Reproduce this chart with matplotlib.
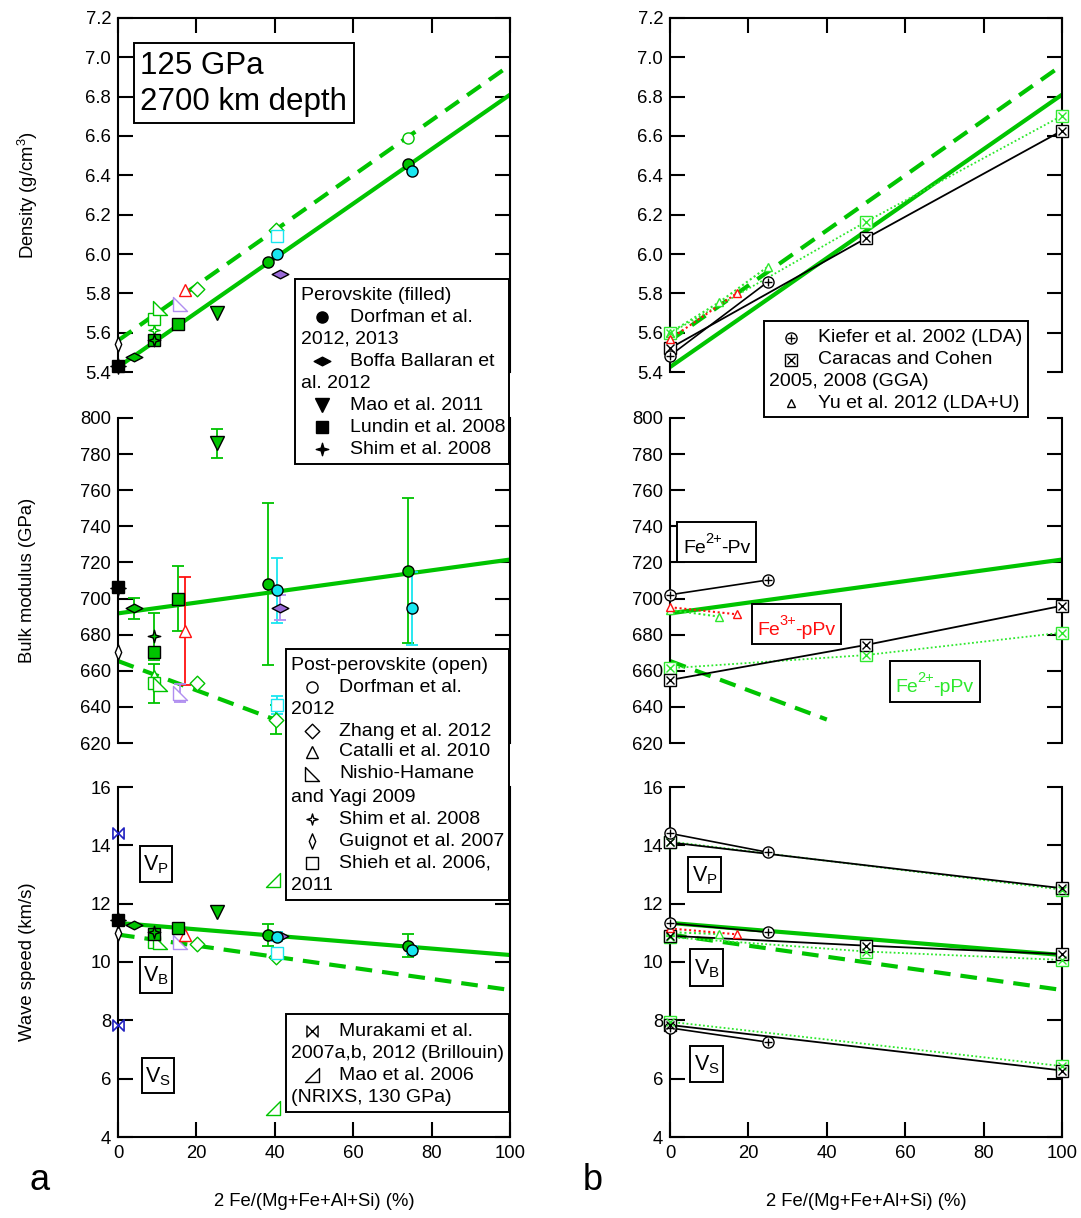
import matplotlib
matplotlib.use('Agg')
import matplotlib.pyplot as plt
from matplotlib.path import Path
from matplotlib.patches import Rectangle
from matplotlib.ticker import FormatStrFormatter

plt.rcParams['font.family'] = ['Liberation Sans', 'DejaVu Sans']
plt.rcParams['mathtext.fontset'] = 'custom'
plt.rcParams['mathtext.rm'] = 'Liberation Sans'
plt.rcParams['mathtext.it'] = 'Liberation Sans:italic'

# ---------------- data ----------------
# fitted trends (Pv solid, pPv dashed)
fit_x = [0, 100]
fit_pv_rho = [5.425, 6.81]
fit_ppv_rho = [5.56, 6.96]
fit_pv_K = [691.8, 721.6]
fit_ppv_K_x = [0, 40]
fit_ppv_K = [665.4, 633.0]
fit_pv_vb = [11.34, 10.24]
fit_ppv_vb = [10.94, 9.04]

# Perovskite (filled)
dorf_x = [38.2, 74.1]
dorf_rho = [5.96, 6.46]
dorf_K = [708.0, 715.5]
dorf_Kerr = [45, 40]
dorf_vb = [10.93, 10.56]
dorf_vberr = [0.39, 0.40]

dorfAl_x = [40.6, 75.1]
dorfAl_rho = [6.00, 6.42]
dorfAl_K = [704.5, 694.5]
dorfAl_Kerr = [18, 20]
dorfAl_vb = [10.87, 10.41]
dorfAl_vberr = [0.15, 0.15]

boffa_x = [4.2]
boffa_rho = [5.475]
boffa_K = [694.5]
boffa_Kerr = [6]
boffa_vb = [11.27]

boffaAl_x = [41.2]
boffaAl_rho = [5.90]
boffaAl_K = [695.0]
boffaAl_Kerr = [7]
boffaAl_vb = [10.89]

mao11_x = [25.2]
mao11_rho = [5.70]
mao11_K = [786.0]
mao11_Kerr = [8]
mao11_vb = [11.73]

lundin0_x = [0]
lundin0_rho = [5.43]
lundin0_K = [706.5]
lundin0_vb = [11.44]

lundin_x = [9.2, 15.2]
lundin_rho = [5.565, 5.645]
lundin_K = [670.6, 700.0]
lundin_Kerr = [0, 18]
lundin_vb = [10.96, 11.18]

shim0_x = [0]
shim0_rho = [5.43]
shim0_K = [706.0]
shim0_vb = [11.44]

shim_x = [9.2]
shim_rho = [5.565]
shim_K = [679.0]
shim_Kerr = [13]
shim_vb = [11.02]

# Post-perovskite (open)
dorfP_x = [74.0]
dorfP_rho = [6.59]

zhang_x = [20.2, 40.2]
zhang_rho = [5.82, 6.12]
zhang_K = [653.0, 633.0]
zhang_Kerr = [0, 8]
zhang_vb = [10.62, 10.18]

catalli_x = [17.2]
catalli_rho = [5.815]
catalli_K = [682.0]
catalli_Kerr = [30]
catalli_vb = [10.93]

catalliG_x = [9.2]
catalliG_K = [657.0]
catalliG_vb = [10.74]

nishio_x = [10.7]
nishio_rho = [5.725]
nishio_K = [652.5]
nishio_vb = [10.70]

nishioAl_x = [15.8]
nishioAl_rho = [5.746]
nishioAl_K = [647.5]
nishioAl_Kerr = [5]
nishioAl_vb = [10.67]

shimP_x = [9.2]
shimP_rho = [5.615]

guignot_x = [0]
guignot_rho = [5.54]
guignot_K = [670.6]
guignot_vb = [10.98]

shieh_x = [9.2]
shieh_rho = [5.67]
shieh_K = [653.0]
shieh_Kerr = [11]
shieh_vb = [10.70]

shiehAl_x = [40.6]
shiehAl_rho = [6.09]
shiehAl_K = [641.0]
shiehAl_Kerr = [5]
shiehAl_vb = [10.30]

murakami_x = [0, 0]
murakami_v = [14.41, 7.84]

mao06_x = [39.6, 39.6]
mao06_v = [12.81, 4.98]

# Computations (right column)
kiefer_x = [0, 25]
kiefer_rho = [5.483, 5.859]
kiefer_K = [702.1, 710.3]
kiefer_vp = [14.41, 13.76]
kiefer_vb = [11.33, 11.02]
kiefer_vs = [7.74, 7.25]

caracas_x = [0, 50, 100]
caracas_rho = [5.521, 6.08, 6.627]
caracas_K = [654.9, 674.3, 696.0]
caracas_vb = [10.90, 10.56, 10.27]
caracas_x2 = [0, 100]
caracas_vp = [14.10, 12.53]
caracas_vs = [7.84, 6.28]

caracasP_x = [0, 50, 100]
caracasP_rho = [5.597, 6.164, 6.703]
caracasP_K = [661.4, 668.7, 681.1]
caracasP_vb = [10.85, 10.36, 10.07]
caracasP_x2 = [0, 100]
caracasP_vp = [14.13, 12.48]
caracasP_vs = [7.95, 6.43]

yu3_x = [0, 17]
yu3_rho = [5.568, 5.80]
yu3_K = [695.2, 691.3]
yu3_vb = [11.15, 10.95]

yu2_x = [0, 12.5, 25]
yu2_rho = [5.60, 5.754, 5.936]
yu2_xK = [0, 12.5]
yu2_K = [693.7, 690.0]
yu2_vb = [11.02, 10.96]

rho_ticks = [5.4, 5.6, 5.8, 6.0, 6.2, 6.4, 6.6, 6.8, 7.0, 7.2]
K_ticks = [620, 640, 660, 680, 700, 720, 740, 760, 780, 800]
v_ticks = [4, 6, 8, 10, 12, 14, 16]
x_ticks = [0, 20, 40, 60, 80, 100]

# ---------------- style ----------------
W, H = 1081, 1218
GREEN = '#00c400'
LIME = '#2ee82e'
CYAN = '#18e6f0'
PURP = '#9a6ad8'
PURP_O = '#b08ef0'
RED = '#ff1010'
BLUE = '#2020c0'


def mk(verts):
    v = list(verts) + [verts[0]]
    codes = [Path.MOVETO] + [Path.LINETO] * (len(verts) - 1) + [Path.CLOSEPOLY]
    return Path(v, codes)


FLAT_D = mk([(-1, 0), (0, 0.52), (1, 0), (0, -0.52)])
TALL_D = mk([(0, -1), (0.42, 0), (0, 1), (-0.42, 0)])
DIAM = mk([(0, 1), (1, 0), (0, -1), (-1, 0)])
STAR4 = mk([(0, 1), (0.22, 0.22), (1, 0), (0.22, -0.22), (0, -1), (-0.22, -0.22), (-1, 0), (-0.22, 0.22)])
RTRI_L = mk([(-1, 1), (-1, -1), (1, -1)])
RTRI_R = mk([(1, 1), (1, -1), (-1, -1)])
BOWTIE = mk([(-1, 1), (1, -1), (1, 1), (-1, -1)])

fig = plt.figure(figsize=(W / 100, H / 100), dpi=100)


def panel(x0, y0, y1, ylim, yticks, fmt, kind):
    ax = fig.add_axes([x0 / W, 1 - y1 / H, 392 / W, (y1 - y0) / H])
    ax.set_xlim(0, 100)
    ax.set_ylim(*ylim)
    ax.set_yticks(yticks)
    ax.yaxis.set_major_formatter(FormatStrFormatter(fmt))
    ax.tick_params(axis='y', direction='in', left=True, right=True, labelleft=True,
                   length=11, width=1.5, labelsize=13.3, pad=5)
    for s in ax.spines.values():
        s.set_linewidth(1.5)
    ax.spines['top'].set_visible(kind == 'top')
    ax.spines['bottom'].set_visible(kind == 'bottom')
    if kind == 'top':
        ax.set_xticks(x_ticks)
        ax.tick_params(axis='x', direction='in', top=True, bottom=False, labeltop=False,
                       labelbottom=False, length=11, width=1.5)
    elif kind == 'bottom':
        ax.set_xticks(x_ticks)
        ax.tick_params(axis='x', direction='in', top=False, bottom=True, labelbottom=True,
                       length=11, width=1.5, labelsize=13.3, pad=6)
    else:
        ax.set_xticks([])
    return ax


def pts(ax, x, y, marker, ms, fc, ec, mew=1.0, z=4):
    ax.plot(x, y, ls='none', marker=marker, ms=ms, mfc=fc, mec=ec, mew=mew, zorder=z, clip_on=False)


def err(ax, x, y, e, color):
    ax.errorbar(x, y, yerr=e, fmt='none', ecolor=color, elinewidth=1.3, capsize=4.5,
                capthick=1.3, zorder=2.5)


def fits(ax, which):
    if which == 'rho':
        ax.plot(fit_x, fit_pv_rho, color=GREEN, lw=3, zorder=2, solid_capstyle='butt')
        ax.plot(fit_x, fit_ppv_rho, color=GREEN, lw=3, ls=(0, (4, 2.4)), zorder=2)
    elif which == 'K':
        ax.plot(fit_x, fit_pv_K, color=GREEN, lw=3, zorder=2, solid_capstyle='butt')
        ax.plot(fit_ppv_K_x, fit_ppv_K, color=GREEN, lw=3, ls=(0, (4, 2.4)), zorder=2)
    else:
        ax.plot(fit_x, fit_pv_vb, color=GREEN, lw=3, zorder=2, solid_capstyle='butt')
        ax.plot(fit_x, fit_ppv_vb, color=GREEN, lw=3, ls=(0, (4, 2.4)), zorder=2)


LX = 118
RX = 670
aT = panel(LX, 18, 372, (5.4, 7.2), rho_ticks, '%.1f', 'top')
aM = panel(LX, 418, 743, (620, 800), K_ticks, '%d', 'mid')
aB = panel(LX, 787, 1137, (4, 16), v_ticks, '%d', 'bottom')
bT = panel(RX, 18, 372, (5.4, 7.2), rho_ticks, '%.1f', 'top')
bM = panel(RX, 418, 743, (620, 800), K_ticks, '%d', 'mid')
bB = panel(RX, 787, 1137, (4, 16), v_ticks, '%d', 'bottom')

# ---------------- left column ----------------
fits(aT, 'rho')
fits(aM, 'K')
fits(aB, 'v')

MS = 8
err(aM, dorf_x, dorf_K, dorf_Kerr, GREEN)
err(aM, dorfAl_x, dorfAl_K, dorfAl_Kerr, CYAN)
err(aM, boffa_x, boffa_K, boffa_Kerr, GREEN)
err(aM, boffaAl_x, boffaAl_K, boffaAl_Kerr, PURP_O)
err(aM, mao11_x, mao11_K, mao11_Kerr, GREEN)
err(aM, lundin_x, lundin_K, lundin_Kerr, GREEN)
err(aM, shim_x, shim_K, shim_Kerr, GREEN)
err(aM, zhang_x, zhang_K, zhang_Kerr, GREEN)
err(aM, catalli_x, catalli_K, catalli_Kerr, RED)
err(aM, nishioAl_x, nishioAl_K, nishioAl_Kerr, PURP_O)
err(aM, shieh_x, shieh_K, shieh_Kerr, GREEN)
err(aM, shiehAl_x, shiehAl_K, shiehAl_Kerr, CYAN)
err(aB, dorf_x, dorf_vb, dorf_vberr, GREEN)
err(aB, dorfAl_x, dorfAl_vb, dorfAl_vberr, CYAN)

for ax, d in ((aT, 0), (aM, 1), (aB, 2)):
    def pick(rho, K, vb):
        return (rho, K, vb)[d]
    if d == 0:
        pts(ax, dorfP_x, dorfP_rho, 'o', MS, 'white', GREEN)
        pts(ax, shimP_x, shimP_rho, STAR4, 8, 'white', GREEN)
    if d > 0:
        pts(ax, catalliG_x, pick(None, catalliG_K, catalliG_vb), '^', MS, 'white', GREEN)
    pts(ax, shieh_x, pick(shieh_rho, shieh_K, shieh_vb), 's', MS, 'white', GREEN)
    pts(ax, nishio_x, pick(nishio_rho, nishio_K, nishio_vb), RTRI_L, 10, 'white', GREEN)
    pts(ax, nishioAl_x, pick(nishioAl_rho, nishioAl_K, nishioAl_vb), RTRI_L, 10, 'white', PURP_O)
    pts(ax, catalli_x, pick(catalli_rho, catalli_K, catalli_vb), '^', 9, 'white', RED)
    pts(ax, zhang_x, pick(zhang_rho, zhang_K, zhang_vb), DIAM, 10.5, 'white', GREEN)
    pts(ax, shiehAl_x, pick(shiehAl_rho, shiehAl_K, shiehAl_vb), 's', MS, 'white', CYAN)
    pts(ax, guignot_x, pick(guignot_rho, guignot_K, guignot_vb), TALL_D, 11, 'white', 'black')
    pts(ax, mao11_x, pick(mao11_rho, mao11_K, mao11_vb), 'v', 9.5, GREEN, 'black')
    pts(ax, lundin_x, pick(lundin_rho, lundin_K, lundin_vb), 's', MS, GREEN, 'black')
    pts(ax, shim_x, pick(shim_rho, shim_K, shim_vb), STAR4, 9, GREEN, 'black')
    pts(ax, boffa_x, pick(boffa_rho, boffa_K, boffa_vb), FLAT_D, 12, GREEN, 'black')
    pts(ax, boffaAl_x, pick(boffaAl_rho, boffaAl_K, boffaAl_vb), FLAT_D, 12, PURP, 'black')
    pts(ax, dorf_x, pick(dorf_rho, dorf_K, dorf_vb), 'o', MS, GREEN, 'black')
    pts(ax, dorfAl_x, pick(dorfAl_rho, dorfAl_K, dorfAl_vb), 'o', MS, CYAN, 'black')
    pts(ax, shim0_x, pick(shim0_rho, shim0_K, shim0_vb), STAR4, 11, 'black', 'black')
    pts(ax, lundin0_x, pick(lundin0_rho, lundin0_K, lundin0_vb), 's', MS, 'black', 'black')

pts(aB, murakami_x, murakami_v, BOWTIE, 8, 'white', BLUE, mew=1.2)
pts(aB, mao06_x, mao06_v, RTRI_R, 9.5, 'white', GREEN)

# ---------------- right column ----------------
fits(bT, 'rho')
fits(bM, 'K')
fits(bB, 'v')


def kiefer(ax, x, y):
    ax.plot(x, y, color='black', lw=1.2, zorder=3)
    pts(ax, x, y, 'o', 8, 'white', 'black', z=5)
    pts(ax, x, y, '+', 6, 'none', 'black', mew=1.0, z=6)


def caracas(ax, x, y, col, ls):
    ax.plot(x, y, color=col, lw=1.3, ls=ls, zorder=3)
    pts(ax, x, y, 's', 8, 'white', col, z=5)
    pts(ax, x, y, 'x', 6, 'none', col, mew=1.0, z=6)


def yu(ax, x, y, col):
    ax.plot(x, y, color=col, lw=1.5, ls=(0, (1, 1.3)), zorder=3)
    pts(ax, x, y, '^', 6, 'white', col, z=5)


caracas(bT, caracasP_x, caracasP_rho, LIME, (0, (1, 1.3)))
caracas(bT, caracas_x, caracas_rho, 'black', '-')
yu(bT, yu2_x, yu2_rho, LIME)
yu(bT, yu3_x, yu3_rho, RED)
kiefer(bT, kiefer_x, kiefer_rho)

caracas(bM, caracasP_x, caracasP_K, LIME, (0, (1, 1.3)))
caracas(bM, caracas_x, caracas_K, 'black', '-')
yu(bM, yu2_xK, yu2_K, LIME)
yu(bM, yu3_x, yu3_K, RED)
kiefer(bM, kiefer_x, kiefer_K)

caracas(bB, caracasP_x2, caracasP_vp, LIME, (0, (1, 1.3)))
caracas(bB, caracasP_x, caracasP_vb, LIME, (0, (1, 1.3)))
caracas(bB, caracasP_x2, caracasP_vs, LIME, (0, (1, 1.3)))
caracas(bB, caracas_x2, caracas_vp, 'black', '-')
caracas(bB, caracas_x, caracas_vb, 'black', '-')
caracas(bB, caracas_x2, caracas_vs, 'black', '-')
yu(bB, yu2_xK, yu2_vb, LIME)
yu(bB, yu3_x, yu3_vb, RED)
kiefer(bB, kiefer_x, kiefer_vp)
kiefer(bB, kiefer_x, kiefer_vb)
kiefer(bB, kiefer_x, kiefer_vs)

# ---------------- overlay: annotations, legends ----------------
ov = fig.add_axes([0, 0, 1, 1], zorder=10)
ov.set_xlim(0, W)
ov.set_ylim(H, 0)
ov.axis('off')

FS = 14.0


def box(x0, y0, x1, y1, lw=1.4):
    ov.add_patch(Rectangle((x0, y0), x1 - x0, y1 - y0, fc='white', ec='black', lw=lw, zorder=1))


def txt(x, y, s, fs=FS, color='black', ha='left', va='center'):
    ov.text(x, y, s, fontsize=fs, color=color, ha=ha, va=va, zorder=3)


def lm(x, y, marker, ms, fc, ec='black', mew=1.0):
    ov.plot([x], [y], ls='none', marker=marker, ms=ms, mfc=fc, mec=ec, mew=mew, zorder=4)


def fe_label(x_fe, x_sup, x_rest, base, sup, rest, color):
    txt(x_fe, base, 'Fe', fs=14, color=color, va='baseline')
    txt(x_sup, base - 10, sup, fs=10.5, color=color, va='baseline')
    txt(x_rest, base, rest, fs=14, color=color, va='baseline')


# pressure box
box(134, 43, 354, 123)
txt(140, 66, '125 GPa', fs=22.5)
txt(140, 102, '2700 km depth', fs=22.5)

# legend 1: perovskite
box(295, 279, 509, 464)
txt(301, 296, 'Perovskite (filled)')
lm(322, 317, 'o', 8, 'black')
txt(350, 317, 'Dorfman et al.')
txt(301, 339, '2012, 2013')
lm(322, 361, FLAT_D, 12, 'black')
txt(350, 361, 'Boffa Ballaran et')
txt(301, 383, 'al. 2012')
lm(322, 405, 'v', 9.5, 'black')
txt(350, 405, 'Mao et al. 2011')
lm(322, 427, 's', 8, 'black')
txt(350, 427, 'Lundin et al. 2008')
lm(322, 449, STAR4, 9, 'black')
txt(350, 449, 'Shim et al. 2008')

# legend 2: post-perovskite
box(286, 649, 509, 900)
txt(291, 665, 'Post-perovskite (open)')
lm(312, 687, 'o', 8, 'white')
txt(339, 687, 'Dorfman et al.')
txt(291, 709, '2012')
lm(312, 731, DIAM, 10.5, 'white')
txt(339, 731, 'Zhang et al. 2012')
lm(312, 752, '^', 9, 'white')
txt(339, 752, 'Catalli et al. 2010')
lm(312, 774, RTRI_L, 10, 'white')
txt(339, 774, 'Nishio-Hamane')
txt(291, 797, 'and Yagi 2009')
lm(312, 819, STAR4, 8, 'white')
txt(339, 819, 'Shim et al. 2008')
lm(312, 841, TALL_D, 11, 'white')
txt(339, 841, 'Guignot et al. 2007')
lm(312, 863, 's', 8, 'white')
txt(339, 863, 'Shieh et al. 2006,')
txt(291, 885, '2011')

# legend 3: velocities
box(286, 1014, 509, 1112)
lm(312, 1031, BOWTIE, 8, 'white')
txt(339, 1031, 'Murakami et al.')
txt(291, 1053, '2007a,b, 2012 (Brillouin)')
lm(312, 1075, RTRI_R, 9.5, 'white')
txt(339, 1075, 'Mao et al. 2006')
txt(291, 1097, '(NRIXS, 130 GPa)')

# right legend
box(764, 321, 1028, 417)
lm(791, 338, 'o', 8, 'white')
lm(791, 338, '+', 6, 'none')
txt(818, 338, 'Kiefer et al. 2002 (LDA)')
lm(791, 360, 's', 8, 'white')
lm(791, 360, 'x', 6, 'none')
txt(818, 360, 'Caracas and Cohen')
txt(769, 381, '2005, 2008 (GGA)')
lm(791, 403, '^', 6, 'white')
txt(818, 403, 'Yu et al. 2012 (LDA+U)')

# velocity label boxes
for (x0, y0, x1, y1, s) in ((140, 846, 172, 882, r'V$_\mathrm{P}$'),
                            (140, 957, 172, 993, r'V$_\mathrm{B}$'),
                            (142, 1058, 174, 1093, r'V$_\mathrm{S}$'),
                            (688, 857, 721, 892, r'V$_\mathrm{P}$'),
                            (690, 949, 723, 986, r'V$_\mathrm{B}$'),
                            (690, 1046, 723, 1082, r'V$_\mathrm{S}$')):
    box(x0, y0, x1, y1)
    txt((x0 + x1) / 2, (y0 + y1) / 2 + 1, s, fs=15.5, ha='center')

# iron species boxes
box(677, 522, 756, 562)
fe_label(683, 705, 721, 553, '2+', '-Pv', 'black')
box(752, 604, 841, 644)
fe_label(757, 779, 795, 635, '3+', '-pPv', RED)
box(890, 661, 980, 702)
fe_label(895, 917, 933, 692, '2+', '-pPv', LIME)

# axis titles
for xc in (314, 866):
    txt(xc, 1202, '2 Fe/(Mg+Fe+Al+Si) (%)', fs=13.3, ha='center')
ov.text(28, 195, r'Density (g/cm$^3$)', fontsize=13.3, rotation=90, ha='center', va='center')
ov.text(28, 580, 'Bulk modulus (GPa)', fontsize=13.3, rotation=90, ha='center', va='center')
ov.text(28, 962, 'Wave speed (km/s)', fontsize=13.3, rotation=90, ha='center', va='center')
txt(40, 1180, 'a', fs=26, ha='center')
txt(593, 1180, 'b', fs=26, ha='center')

fig.savefig('out.png', dpi=100)
